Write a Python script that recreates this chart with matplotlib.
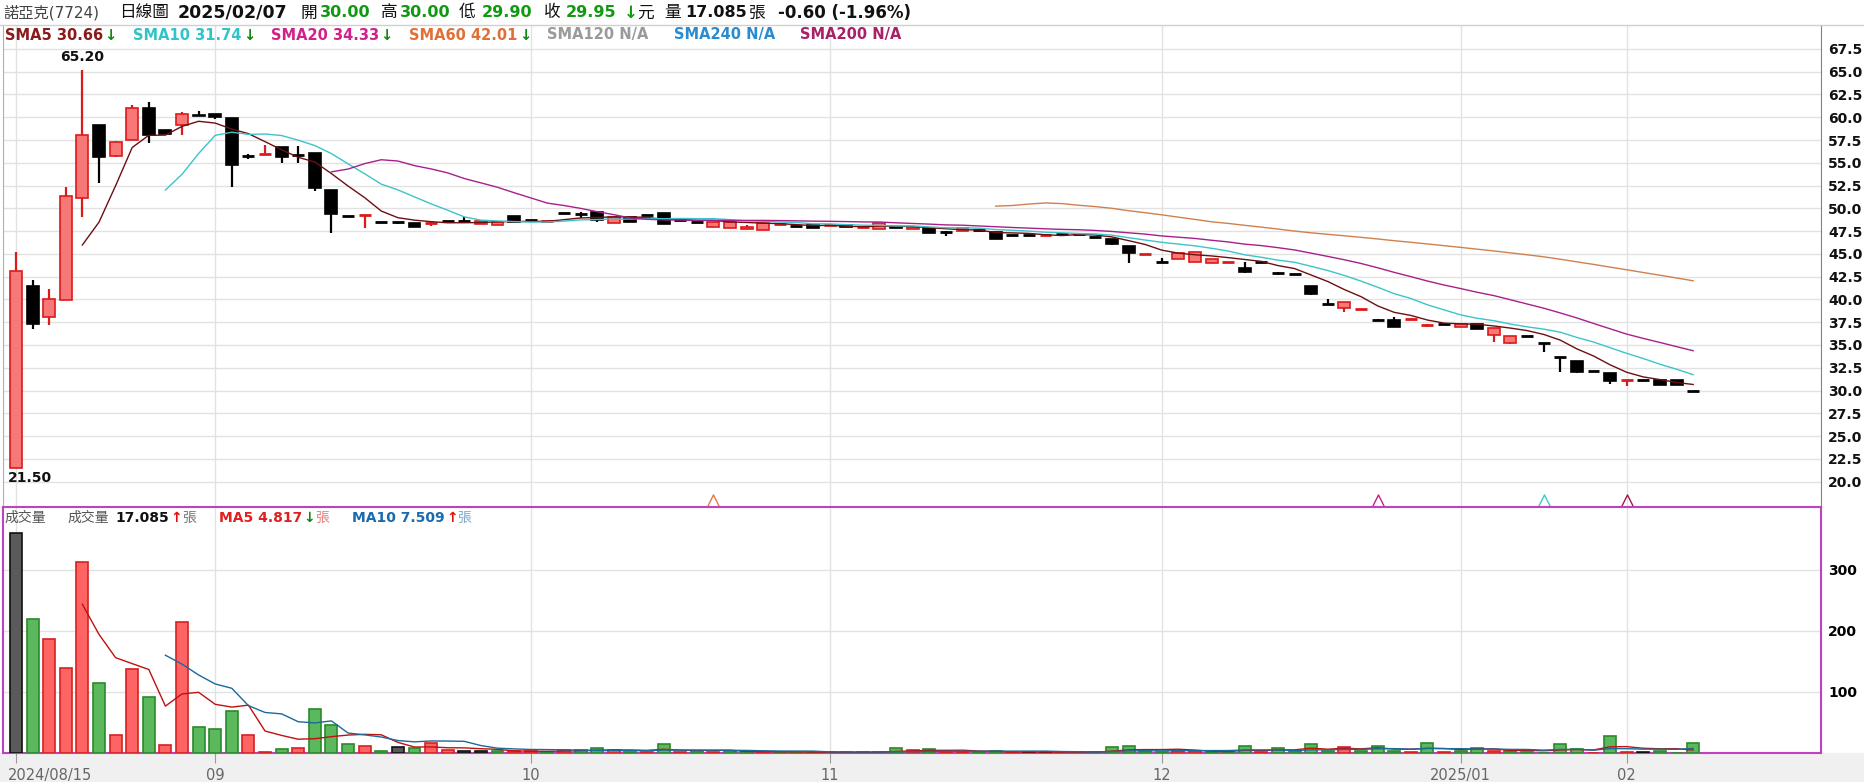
import numpy as np
import pandas as pd
import matplotlib
matplotlib.use('Agg')
import matplotlib.pyplot as plt
import matplotlib.transforms as mtransforms
from matplotlib.patches import Rectangle
from matplotlib.lines import Line2D
from matplotlib.path import Path

plt.rcParams['font.family'] = ['DejaVu Sans', 'Noto Sans CJK TC']

# daily candles, 2024/08/15 .. 2025/02/07
opens = [21.50, 41.50, 38.10, 39.90, 51.10, 59.10, 55.70, 57.50, 61.00, 58.60,
         59.10, 60.30, 60.40, 59.90, 55.70, 56.00, 56.70, 55.90, 56.10, 52.00,
         49.20, 49.20, 48.55, 48.55, 48.40, 48.35, 48.60, 48.60, 48.25, 48.14,
         49.17, 48.69, 48.60, 49.50, 49.42, 49.57, 48.43, 49.09, 49.28, 49.46,
         48.76, 48.54, 47.95, 47.80, 47.70, 47.63, 48.25, 48.02, 48.13, 48.11,
         48.20, 47.93, 47.70, 47.99, 47.70, 47.80, 47.37, 47.55, 47.60, 47.40,
         47.10, 47.10, 47.08, 47.15, 47.20, 46.80, 46.64, 45.88, 45.02, 44.09,
         44.42, 44.09, 44.05, 44.10, 43.46, 44.12, 42.87, 42.77, 41.48, 39.50,
         39.03, 38.97, 37.71, 37.78, 37.80, 37.14, 37.31, 36.94, 37.30, 36.06,
         35.26, 35.95, 35.19, 33.65, 33.24, 32.10, 31.89, 31.08, 31.10, 31.20,
         31.16, 30.00]
highs = [45.20, 42.10, 41.10, 52.30, 65.20, 59.10, 57.40, 61.40, 61.70, 58.60,
         60.60, 60.70, 60.40, 59.90, 56.00, 57.00, 56.70, 56.90, 56.10, 52.00,
         49.20, 49.22, 48.55, 48.55, 48.40, 48.50, 48.60, 49.10, 48.60, 48.47,
         49.17, 48.69, 48.62, 49.50, 49.60, 49.57, 49.09, 49.09, 49.28, 49.46,
         48.76, 48.54, 48.55, 48.45, 48.17, 48.38, 48.27, 48.02, 48.13, 48.13,
         48.20, 48.10, 48.38, 47.99, 47.99, 47.80, 47.50, 47.85, 47.60, 47.40,
         47.10, 47.10, 47.10, 47.15, 47.20, 46.80, 46.64, 45.88, 45.04, 44.56,
         45.15, 45.18, 44.41, 44.12, 44.12, 44.12, 43.00, 42.77, 41.48, 40.05,
         39.69, 38.99, 37.85, 38.04, 37.82, 37.30, 37.31, 37.30, 37.30, 36.87,
         35.99, 35.95, 35.19, 33.65, 33.24, 32.10, 31.89, 31.10, 31.10, 31.20,
         31.16, 30.00]
lows = [21.50, 36.80, 37.20, 39.90, 49.10, 52.80, 55.60, 57.50, 57.20, 58.20,
        58.00, 60.10, 59.80, 52.30, 55.40, 56.00, 55.00, 55.00, 51.90, 47.30,
        49.20, 47.80, 48.55, 48.30, 47.90, 48.10, 48.60, 48.60, 48.25, 48.14,
        48.50, 48.69, 48.60, 49.50, 48.90, 48.54, 48.43, 48.54, 49.28, 48.25,
        48.76, 48.45, 47.95, 47.80, 47.70, 47.63, 48.25, 48.02, 47.88, 48.11,
        47.90, 47.80, 47.70, 47.80, 47.70, 47.27, 47.00, 47.55, 47.60, 46.60,
        47.10, 47.10, 47.08, 47.15, 47.20, 46.80, 45.95, 44.05, 45.02, 44.09,
        44.42, 44.09, 44.05, 44.10, 42.95, 44.12, 42.73, 42.77, 40.46, 39.50,
        38.59, 38.97, 37.64, 37.01, 37.80, 37.00, 37.31, 36.94, 36.79, 35.37,
        35.15, 35.95, 34.27, 32.08, 31.97, 32.10, 30.73, 30.54, 31.10, 30.60,
        30.55, 29.90]
closes = [43.10, 37.30, 40.00, 51.40, 58.10, 55.60, 57.30, 61.00, 58.10, 58.20,
          60.40, 60.10, 60.00, 54.80, 55.70, 56.02, 55.60, 55.90, 52.20, 49.35,
          49.20, 49.22, 48.55, 48.55, 48.00, 48.37, 48.60, 48.60, 48.60, 48.47,
          48.50, 48.69, 48.62, 49.50, 49.42, 48.73, 49.09, 48.54, 49.28, 48.25,
          48.76, 48.54, 48.55, 48.45, 47.95, 48.38, 48.27, 48.02, 47.88, 48.13,
          47.90, 47.95, 48.38, 47.80, 47.99, 47.27, 47.37, 47.85, 47.60, 46.60,
          47.10, 47.10, 47.10, 47.15, 47.20, 46.80, 46.06, 45.07, 45.04, 44.09,
          45.15, 45.18, 44.41, 44.12, 43.06, 44.12, 42.87, 42.77, 40.57, 39.50,
          39.69, 38.99, 37.71, 37.01, 37.82, 37.16, 37.31, 37.30, 36.79, 36.87,
          35.99, 35.95, 35.19, 33.65, 32.07, 32.10, 31.09, 31.10, 31.10, 30.60,
          30.55, 29.95]
volumes = [360, 220, 186, 139, 313, 114, 29, 137, 91, 13,
           214, 42, 39, 68, 29, 2, 6, 8, 72, 46,
           15, 12, 4, 10, 8, 16, 5, 3, 3, 3,
           3, 3, 2, 5, 5, 8, 5, 2, 1.5, 14,
           1.5, 3, 1.5, 3, 3, 2, 1, 1, 1, 1,
           1, 2, 1, 8, 5, 6, 2, 2, 1, 3,
           1, 2, 1, 1, 2, 1, 10, 12, 3, 2,
           4, 3, 2, 1, 12, 2, 8, 3, 15, 3,
           10, 3, 12, 4, 2, 17, 2, 3, 9, 3,
           4, 2, 0.5, 15, 7, 0.3, 28, 2, 1.5, 3,
           0.5, 17.085]

month_idx = [0, 12, 31, 49, 69, 87, 97]
month_labels = ['2024/08/15', '09', '10', '11', '12', '2025/01', '02']
price_ticks = np.arange(20, 67.6, 2.5)
vol_ticks = [100, 200, 300]

W, H = 1864, 782
fig = plt.figure(figsize=(W / 100, H / 100), dpi=100)


def fx(px):
    return px / W


def fy(py):
    return 1 - py / H


fig.patches.append(Rectangle((0, 0), 1, fy(753), transform=fig.transFigure,
                             color='#f0f0f0', zorder=-5))
fig.add_artist(Line2D([0, 1], [fy(25), fy(25)], color='#d0d0d0', lw=1))

ax = fig.add_axes([fx(3), fy(506), fx(1818), fy(25) - fy(506)])
axv = fig.add_axes([fx(3), fy(753), fx(1818), fy(507) - fy(753)], sharex=ax)

x = np.arange(len(closes))
o, h, l, c = (np.array(a) for a in (opens, highs, lows, closes))
v = np.array(volumes)

# ---------- price panel ----------
up = c > o
face = np.where(up, '#f87878', '#000000')
edge = np.where(up, '#dd1a1a', '#000000')
ax.vlines(x, l, h, colors=edge, lw=1.6, zorder=3)
thin = np.abs(c - o) < 0.08
ax.bar(x[~thin], np.abs(c - o)[~thin], bottom=np.minimum(o, c)[~thin], width=0.72,
       color=face[~thin], edgecolor=edge[~thin], lw=1.2, zorder=4)
ax.hlines(np.maximum(o, c)[thin], x[thin] - 0.36, x[thin] + 0.36,
          colors=edge[thin], lw=2, zorder=4)

cs = pd.Series(c)
ax.plot(x, cs.rolling(5).mean(), color='#6b1010', lw=1, zorder=5)
ax.plot(x, cs.rolling(10).mean(), color='#3cc4c8', lw=1, zorder=5)
ax.plot(x, cs.rolling(20).mean(), color='#a8208a', lw=1, zorder=5)
ax.plot(x, cs.rolling(60).mean(), color='#d0804e', lw=1, zorder=5)

hi = int(np.argmax(h))
lo = int(np.argmin(l))
ax.annotate(f'{h[hi]:.2f}', (hi, h[hi]), xytext=(0, 4), textcoords='offset points',
            ha='center', va='bottom', fontsize=10, fontweight='bold', color='#111')
ax.annotate(f'{l[lo]:.2f}', (lo, l[lo]), xytext=(-6, -2), textcoords='offset points',
            ha='left', va='top', fontsize=10, fontweight='bold', color='#111')

# cross-over signal marks along the bottom
chev = Path([(-1, -1), (0, 1), (1, -1)], [Path.MOVETO, Path.LINETO, Path.LINETO])
for i, col in [(42, '#e07a40'), (82, '#c0208a'), (92, '#40c8c8'), (97, '#a01850')]:
    ax.plot([i], [18.0], marker=chev, markersize=8, mfc='none', mec=col, mew=1, ls='none')

ax.set_xlim(-0.78, 108.7)
ax.set_ylim(17.32, 70.13)
ax.set_yticks(price_ticks)
ax.set_yticklabels([f'{t:.1f}' for t in price_ticks], fontweight='bold', color='#111')
ax.yaxis.tick_right()
ax.tick_params(axis='y', length=0, pad=5, labelsize=10)
ax.tick_params(axis='x', bottom=False, labelbottom=False)
ax.grid(True, color='#e2e2e2', lw=1)
ax.set_xticks(month_idx)
ax.set_axisbelow(True)
for s in ('top', 'bottom'):
    ax.spines[s].set_visible(False)
ax.spines['left'].set_color('#b0b0b0')
ax.spines['right'].set_color('#8c8070')

# legend line
sma_items = [('SMA5 30.66', '#8b1a1a', 5, True), ('SMA10 31.74', '#30c4c8', 133, True),
             ('SMA20 34.33', '#d0228a', 271, True), ('SMA60 42.01', '#e07038', 409, True),
             ('SMA120 N/A', '#9a9a9a', 547, False), ('SMA240 N/A', '#2a8ccc', 674, False),
             ('SMA200 N/A', '#a82068', 800, False)]
for label, col, px, arrow in sma_items:
    t = fig.text(fx(px), fy(35), label, color=col, fontsize=10.5, fontweight='bold',
                 va='center', ha='left')
    if arrow:
        ax.annotate('↓', xy=(1, 0.5), xycoords=t, xytext=(1, 0), textcoords='offset points',
                    va='center', ha='left', color='#118811', fontsize=10.5, fontweight='bold')

# header
hdr = [('諾亞克(7724)', 3, '#444', 'normal', 11), ('日線圖', 119, '#111', 'normal', 12),
       ('2025/02/07', 178, '#111', 'bold', 12.5), ('開', 300, '#111', 'normal', 12),
       ('30.00', 320, '#119911', 'bold', 11.5), ('高', 381, '#111', 'normal', 12),
       ('30.00', 400, '#119911', 'bold', 11.5), ('低', 459, '#111', 'normal', 12),
       ('29.90', 482, '#119911', 'bold', 11.5), ('收', 544, '#111', 'normal', 12),
       ('29.95', 566, '#119911', 'bold', 11.5), ('↓', 624, '#119911', 'bold', 12),
       ('元', 637, '#111', 'normal', 12), ('量', 664, '#111', 'normal', 12),
       ('17.085', 685, '#111', 'bold', 11.5), ('張', 749, '#111', 'normal', 12),
       ('-0.60 (-1.96%)', 778, '#111', 'bold', 12)]
for s, px, col, wt, fs in hdr:
    fig.text(fx(px), fy(12.5), s, color=col, fontweight=wt, fontsize=fs, va='center', ha='left')

# ---------- volume panel ----------
chg = np.sign(np.diff(np.round(c, 2), prepend=np.nan))
vface = np.where(chg > 0, '#ff6464', np.where(chg < 0, '#5cb85c', '#5a5a5a'))
vedge = np.where(chg > 0, '#d82020', np.where(chg < 0, '#2a8a2a', '#111111'))
axv.bar(x, v, width=0.72, color=vface, edgecolor=vedge, lw=1.2, zorder=3)
vs = pd.Series(v)
axv.plot(x, vs.rolling(5).mean(), color='#c01010', lw=1, zorder=4)
axv.plot(x, vs.rolling(10).mean(), color='#1a6a9a', lw=1, zorder=4)

axv.set_ylim(0, 403)
axv.set_yticks(vol_ticks)
axv.yaxis.tick_right()
axv.tick_params(axis='y', length=0, pad=5, labelsize=10)
for t in axv.get_yticklabels():
    t.set_fontweight('bold')
axv.set_xticks(month_idx)
axv.set_xticklabels(month_labels, color='#666', fontsize=10.5)
axv.tick_params(axis='x', length=7, color='#999', pad=4)
first = axv.get_xticklabels()[0]
first.set_horizontalalignment('left')
first.set_transform(first.get_transform() +
                    mtransforms.ScaledTranslation(-8 / 100, 0, fig.dpi_scale_trans))
axv.grid(True, color='#e2e2e2', lw=1)
axv.set_axisbelow(True)
for s in axv.spines.values():
    s.set_color('#c040c0')
    s.set_linewidth(1.5)

vol_hdr = [('成交量', 4, '#555', 'normal'), ('成交量', 67, '#555', 'normal'),
           ('17.085', 115, '#111', 'bold')]
for s, px, col, wt in vol_hdr:
    t = fig.text(fx(px), fy(518), s, color=col, fontweight=wt, fontsize=10, va='center')
ar = axv.annotate('↑', xy=(1, 0.5), xycoords=t, xytext=(1, 0), textcoords='offset points',
                  va='center', color='#e01010', fontsize=10, fontweight='bold')
axv.annotate('張', xy=(1, 0.5), xycoords=ar, xytext=(0, 0), textcoords='offset points',
             va='center', color='#777', fontsize=10)
for s, px, col, acol, arr, ucol in [('MA5 4.817', 219, '#e02020', '#118811', '↓', '#e88080'),
                                   ('MA10 7.509', 352, '#1a6ab0', '#e01010', '↑', '#80a8d0')]:
    t = fig.text(fx(px), fy(518), s, color=col, fontweight='bold', fontsize=10, va='center')
    ar = axv.annotate(arr, xy=(1, 0.5), xycoords=t, xytext=(1, 0), textcoords='offset points',
                      va='center', color=acol, fontsize=10, fontweight='bold')
    axv.annotate('張', xy=(1, 0.5), xycoords=ar, xytext=(0, 0), textcoords='offset points',
                 va='center', color=ucol, fontsize=10)

fig.savefig('out.png', dpi=100)
